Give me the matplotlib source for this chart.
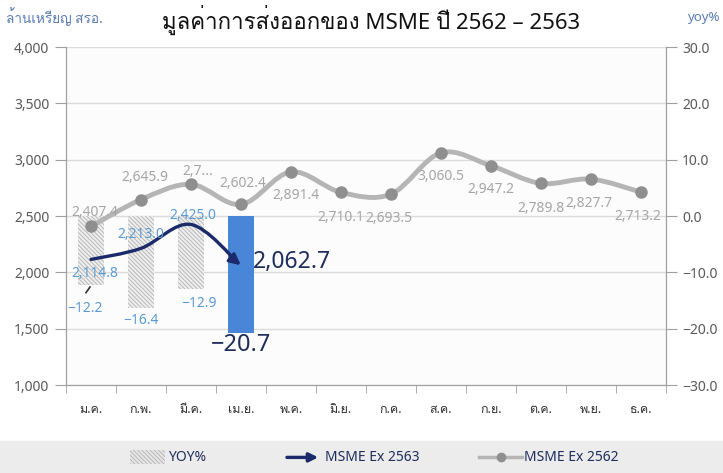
import matplotlib
matplotlib.use("Agg")
import matplotlib.pyplot as plt
import matplotlib.font_manager as fm
from matplotlib.ft2font import FT2Font
from matplotlib.path import Path
from matplotlib.patches import FancyArrowPatch, PathPatch, Rectangle
from matplotlib.lines import Line2D

# ข้อมูล
months = ["ม.ค.", "ก.พ.", "มี.ค.", "เม.ย.", "พ.ค.", "มิ.ย.", "ก.ค.", "ส.ค.", "ก.ย.", "ต.ค.", "พ.ย.", "ธ.ค."]
ex_2562 = [2407.4, 2645.9, 2781.0, 2602.4, 2891.4, 2710.1, 2693.5, 3060.5, 2947.2, 2789.8, 2827.7, 2713.2]
ex_2562_labels = ["2,407.4", "2,645.9", "2,7...", "2,602.4", "2,891.4", "2,710.1", "2,693.5",
                  "3,060.5", "2,947.2", "2,789.8", "2,827.7", "2,713.2"]
ex_2563 = [2114.8, 2213.0, 2425.0, 2062.7]
yoy = [-12.2, -16.4, -12.9, -20.7]


def find_thai_font():
    for f in fm.fontManager.ttflist:
        try:
            if ord("ก") in FT2Font(f.fname).get_charmap():
                return f.name
        except Exception:
            pass
    return "DejaVu Sans"


thai = find_thai_font()
plt.rcParams["font.family"] = ["Noto Sans", thai, "DejaVu Sans"]
plt.rcParams["hatch.linewidth"] = 0.7


def smooth_path(xs, ys):
    # catmull-rom -> bezier, only to draw the smoothed line
    verts = [(xs[0], ys[0])]
    codes = [Path.MOVETO]
    n = len(xs)
    for i in range(n - 1):
        x0, y0 = (xs[i - 1], ys[i - 1]) if i > 0 else (xs[i], ys[i])
        x1, y1 = xs[i], ys[i]
        x2, y2 = xs[i + 1], ys[i + 1]
        x3, y3 = (xs[i + 2], ys[i + 2]) if i + 2 < n else (xs[i + 1], ys[i + 1])
        c1 = (x1 + (x2 - x0) / 6, y1 + (y2 - y0) / 6)
        c2 = (x2 - (x3 - x1) / 6, y2 - (y3 - y1) / 6)
        verts += [c1, c2, (x2, y2)]
        codes += [Path.CURVE4] * 3
    return Path(verts, codes)


fig = plt.figure(figsize=(7.23, 4.73), dpi=100)
ax2 = fig.add_axes([0.0913, 0.186, 0.8293, 0.7146])
ax = ax2.twinx()
# lines above bars
ax.set_zorder(ax2.get_zorder() + 1)
ax.patch.set_visible(False)

x = list(range(len(months)))
x4 = x[:len(yoy)]

# YOY bars on right axis
ax2.set_facecolor("#fcfcfc")
bar_cols = ["#efefef"] * 3 + ["#4a86d8"]
bars = ax2.bar(x4, yoy, width=0.52, color=bar_cols, edgecolor="none", zorder=2)
for b in bars[:3]:
    b.set_hatch("\\\\\\\\\\\\\\\\")
    b.set_edgecolor("#b8b8b8")
    b.set_linewidth(0)
ax2.set_ylim(-30, 30)
ax2.set_yticks([-30, -20, -10, 0, 10, 20, 30])
ax2.grid(axis="y", color="#dcdcdc", lw=1, zorder=0)
ax2.yaxis.tick_right()

ax.yaxis.tick_left()

# 2562 line
ax.add_patch(PathPatch(smooth_path(x, ex_2562), fill=False, edgecolor="#b5b5b5", lw=3.5, zorder=3,
                       capstyle="round"))
ax.plot(x, ex_2562, ls="none", marker="o", ms=8, color="#8f8f8f", zorder=4)

# 2563 line, ends in an arrow
arr = FancyArrowPatch(path=smooth_path(x4, ex_2563), arrowstyle="-|>", mutation_scale=16,
                      color="#1b2a6b", lw=2.4, zorder=5)
ax.add_patch(arr)

ax.set_ylim(1000, 4000)
ax.set_xlim(-0.5, 11.5)
ax.set_yticks(range(1000, 4001, 500))
ax.set_yticklabels([f"{v:,}" for v in range(1000, 4001, 500)])
ax2.set_yticklabels([f"{v:.1f}".replace("-", "\u2212") for v in [-30, -20, -10, 0, 10, 20, 30]])

ax2.set_xticks(x)
ax2.set_xticklabels(months)
ax2.set_xticks([i - 0.5 for i in range(13)], minor=True)
ax2.tick_params(axis="x", which="major", length=0, pad=13, labelsize=9, labelcolor="#333333")
ax2.tick_params(axis="x", which="minor", length=6, color="#a0a0a0", direction="out")
ax.tick_params(axis="y", length=8, color="#a0a0a0", labelsize=10, labelcolor="#595959", pad=4)
ax2.tick_params(axis="y", length=8, color="#a0a0a0", labelsize=10, labelcolor="#595959", pad=4)

for a in (ax, ax2):
    a.spines["top"].set_visible(False)
    for s in ("left", "right", "bottom"):
        a.spines[s].set_color("#a0a0a0")

# 2562 labels
lab_off = [(0.08, 120), (0.07, 195), (0.13, 111), (0.03, 186), (0.1, -207), (0.0, -227),
           (-0.03, -213), (0.0, -213), (0.0, -213), (0.0, -222), (-0.03, -219), (-0.05, -218)]
for xi, v, t, (dx, dy) in zip(x, ex_2562, ex_2562_labels, lab_off):
    ax.text(xi + dx, v + dy, t, ha="center", va="center", fontsize=10, color="#a6a6a6", zorder=6)

# 2563 labels
blue_txt = "#5b9bd5"
navy = "#1f2d5c"
lab_off3 = [(0.07, -126), (0.0, 127), (0.03, 84)]
for xi, v, (dx, dy) in zip(x4[:3], ex_2563[:3], lab_off3):
    ax.text(xi + dx, v + dy, f"{v:,.1f}", ha="center", va="center", fontsize=10, color=blue_txt, zorder=6)
ax.text(3.24, ex_2563[3] + 30, f"{ex_2563[3]:,.1f}", ha="left", va="center", fontsize=16.5,
        color=navy, zorder=6)
ax.plot([-0.1, -0.02], [1820, 1870], color="#333333", lw=1.2, zorder=6)

# yoy labels
yoy_off = [(-0.12, -4.2), (0.0, -2.1), (0.16, -2.6)]
for xi, v, (dx, dy) in zip(x4[:3], yoy[:3], yoy_off):
    ax2.text(xi + dx, v + dy, f"{v:.1f}".replace("-", "\u2212"), ha="center", va="center",
             fontsize=10, color=blue_txt, zorder=6)
ax2.text(3, yoy[3] - 2.2, f"{yoy[3]:.1f}".replace("-", "\u2212"), ha="center", va="center",
         fontsize=17, color=navy, zorder=6)

# titles
fig.text(0.513, 0.957, "มูลค่าการส่งออกของ MSME ปี 2562 – 2563", ha="center", va="center",
         fontsize=16, color="#111111")
fig.text(0.008, 0.962, "ล้านเหรียญ สรอ.", ha="left", va="center", fontsize=9.8, color="#5a7db5")
fig.text(0.997, 0.962, "yoy%", ha="right", va="center", fontsize=9.5, color="#5a7db5")

# legend band at the bottom
fig.patches.append(Rectangle((0, 0), 1, 0.068, transform=fig.transFigure, color="#ececec", zorder=0))
fig.patches.append(Rectangle((0.18, 0.018), 0.048, 0.03, transform=fig.transFigure, facecolor="#e6e6e6",
                             edgecolor="#b8b8b8", hatch="\\\\\\\\\\\\\\\\", lw=0))
fig.text(0.233, 0.033, "YOY%", ha="left", va="center", fontsize=10, color="#1f2d5c")
fig.patches.append(FancyArrowPatch((0.393, 0.033), (0.444, 0.033), transform=fig.transFigure,
                                   arrowstyle="-|>", mutation_scale=13, color="#1b2a6b", lw=2.4))
fig.text(0.449, 0.033, "MSME Ex 2563", ha="left", va="center", fontsize=10, color="#1f2d5c")
fig.lines.append(Line2D([0.663, 0.722], [0.033, 0.033], transform=fig.transFigure, color="#b5b5b5", lw=2.5))
fig.lines.append(Line2D([0.6925], [0.033], transform=fig.transFigure, marker="o", ms=6, color="#8f8f8f"))
fig.text(0.725, 0.033, "MSME Ex 2562", ha="left", va="center", fontsize=10, color="#1f2d5c")

fig.savefig("out.png", dpi=100)
